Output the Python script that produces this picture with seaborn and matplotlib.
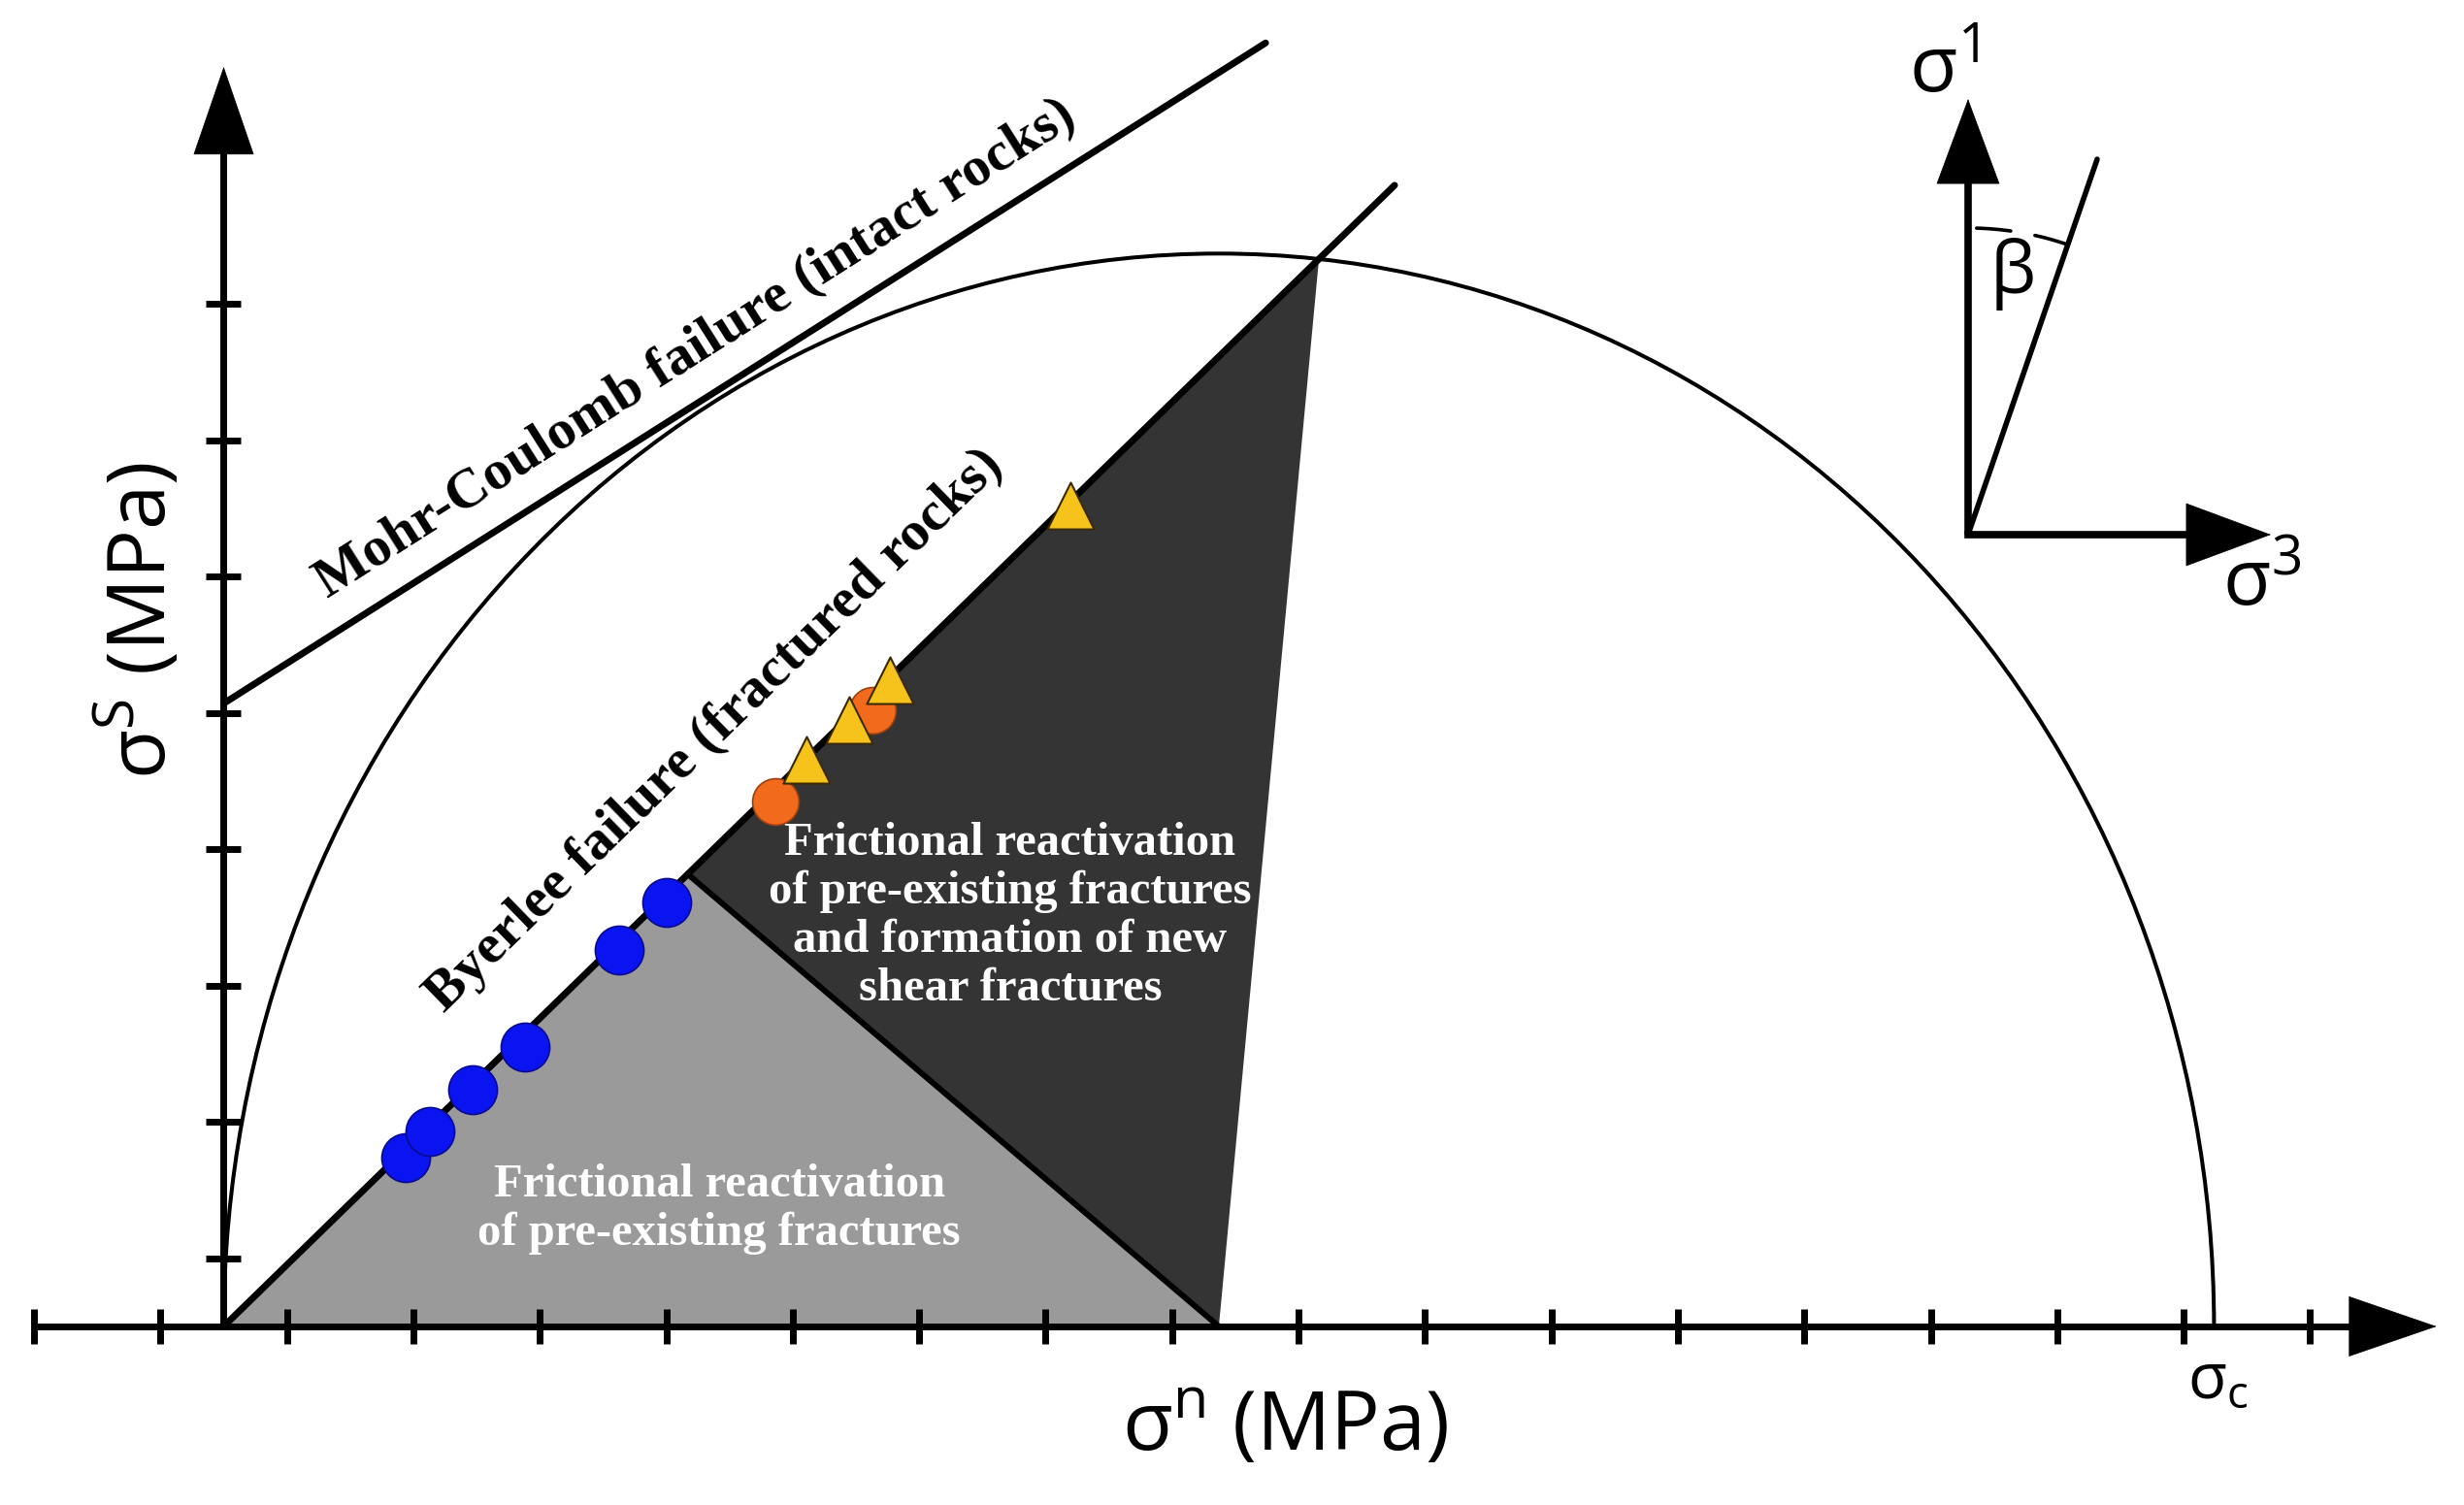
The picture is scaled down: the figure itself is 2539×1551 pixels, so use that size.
import numpy as np
import pandas as pd
import matplotlib
matplotlib.use("Agg")
import matplotlib.pyplot as plt
import seaborn as sns
from matplotlib.patches import Arc

# ---------------- data (in tick units) ----------------
sigma_c = 15.74                 # x where the Mohr circle meets the normal-stress axis
circle_center = sigma_c / 2.0
circle_radius = 7.87

byerlee_slope = 0.904           # Byerlee failure envelope (through origin)
byerlee_x_end = 9.26
mc_cohesion = 4.57              # Mohr-Coulomb envelope intercept
mc_slope = 0.588
mc_x_end = 8.24
junction_x = 3.67               # split between the two shaded regions on Byerlee line

blue_x = [1.44, 1.63, 1.97, 2.38, 3.13, 3.50]
blue_y = [1.24, 1.43, 1.74, 2.05, 2.76, 3.11]
orange_x = [4.36, 5.13]
orange_y = [3.85, 4.52]
yellow_x = [4.61, 4.95, 5.27, 6.70]
yellow_y = [4.16, 4.45, 4.74, 6.02]

x_ticks = [-1.5, -0.5, 0.5, 1.5, 2.5, 3.5, 4.5, 5.5, 6.5, 7.5, 8.5,
           9.5, 10.5, 11.5, 12.5, 13.5, 14.5, 15.5, 16.5]
y_ticks = [0.5, 1.5, 2.5, 3.5, 4.5, 5.5, 6.5, 7.5]

label_mc = "Mohr-Coulomb failure (intact rocks)"
label_byerlee = "Byerlee failure (fractured rocks)"
label_dark = "Frictional reactivation\nof pre-existing fractures\nand formation of new\nshear fractures"
label_gray = "Frictional reactivation\nof pre-existing fractures"

# ---------------- style ----------------
sns.set_style("white")
plt.rcParams["font.family"] = ["Open Sans", "DejaVu Sans"]
plt.rcParams["text.color"] = "black"
SERIF = ["Liberation Serif", "DejaVu Serif"]

W, H, DPI = 2539, 1551, 100
fig = plt.figure(figsize=(W / DPI, H / DPI), dpi=DPI)
ax = fig.add_axes([0, 0, 1, 1])
ax.set_xlim(-1.769, 17.717)
ax.set_ylim(-1.310, 9.730)
ax.axis("off")

ux = W / (17.717 + 1.769)       # pixels per x unit
uy = H / (9.730 + 1.310)        # pixels per y unit

# ---------------- shaded regions ----------------
x_top = 2 * circle_center / (1 + byerlee_slope ** 2)
y_top = byerlee_slope * x_top
jx, jy = junction_x, byerlee_slope * junction_x
ax.fill([0, jx, circle_center], [0, jy, 0], color="#9a9a9a", lw=0, zorder=1)
ax.fill([jx, x_top, circle_center], [jy, y_top, 0], color="#343434", lw=0, zorder=1)
ax.plot([jx, circle_center], [jy, 0], color="black", lw=4.3, zorder=2,
        solid_capstyle="butt")

# ---------------- Mohr circle and envelopes ----------------
ax.add_patch(Arc((circle_center, 0), 2 * circle_radius, 2 * circle_radius,
                 theta1=0, theta2=180, color="black", lw=2.9, zorder=3))
sns.lineplot(x=[0, byerlee_x_end], y=[0, byerlee_slope * byerlee_x_end],
             color="black", lw=5.0, ax=ax, zorder=4)
sns.lineplot(x=[0, mc_x_end], y=[mc_cohesion, mc_cohesion + mc_slope * mc_x_end],
             color="black", lw=5.0, ax=ax, zorder=4)

# ---------------- axes with arrows and ticks ----------------
ax.plot([x_ticks[0], 17.0], [0, 0], color="black", lw=5.0, zorder=5,
        solid_capstyle="butt")
ax.plot([0, 0], [0, 8.9], color="black", lw=5.0, zorder=5, solid_capstyle="butt")
head = "-|>,head_length=64,head_width=22"
ax.annotate("", xy=(17.50, 0), xytext=(16.8, 0),
            arrowprops=dict(arrowstyle=head, color="black", lw=0.5,
                            shrinkA=0, shrinkB=0, mutation_scale=1), zorder=6)
ax.annotate("", xy=(0, 9.24), xytext=(0, 8.4),
            arrowprops=dict(arrowstyle=head, color="black", lw=0.5,
                            shrinkA=0, shrinkB=0, mutation_scale=1), zorder=6)
tx = 18 / uy
ty = 18 / ux
ax.vlines(x_ticks, -tx, tx, color="black", lw=5.0, zorder=5)
ax.hlines(y_ticks, -ty, ty, color="black", lw=5.0, zorder=5)

# ---------------- data markers ----------------
sns.scatterplot(x=blue_x, y=blue_y, s=1300, marker="o", color="#0a14f0",
                edgecolor="#0a0a90", linewidth=1.2, ax=ax, zorder=7, legend=False)
sns.scatterplot(x=orange_x, y=orange_y, s=1190, marker="o", color="#f26a1b",
                edgecolor="#9a4010", linewidth=1.2, ax=ax, zorder=7, legend=False)
sns.scatterplot(x=yellow_x, y=yellow_y, s=1200, marker="^", color="#f6c21c",
                edgecolor="#3a2a00", linewidth=1.5, ax=ax, zorder=8, legend=False)

# ---------------- texts ----------------
def screen_angle(slope):
    p0 = ax.transData.transform((0, 0))
    p1 = ax.transData.transform((1, slope))
    return np.degrees(np.arctan2(p1[1] - p0[1], p1[0] - p0[0]))

ax.text(3.73, 7.17, label_mc, rotation=screen_angle(mc_slope),
        rotation_mode="anchor", ha="center", va="center", color="black",
        fontsize=42, fontweight="bold", family=SERIF, zorder=9)
ax.text(3.88, 4.37, label_byerlee, rotation=screen_angle(byerlee_slope),
        rotation_mode="anchor", ha="center", va="center", color="black",
        fontsize=42, fontweight="bold", family=SERIF, zorder=9)
ax.text(6.22, 3.01, label_dark, ha="center", va="center", color="white",
        fontsize=35, fontweight="bold", family=SERIF, linespacing=1.17, zorder=9)
ax.text(3.92, 0.86, label_gray, ha="center", va="center", color="white",
        fontsize=35, fontweight="bold", family=SERIF, linespacing=1.17, zorder=9)

ax.text(8.39, -0.755, r"σ$^{\mathregular{n}}$ (MPa)", ha="center", va="center",
        fontsize=61, color="black", zorder=9)
ax.text(-0.65, 5.18, r"σ$^{\mathregular{S}}$ (MPa)", ha="center", va="center",
        rotation=90, fontsize=60, color="black", zorder=9)
ax.text(15.77, -0.41, r"σ$_{\mathregular{c}}$", ha="center", va="center",
        fontsize=47, color="black", zorder=9)

# ---------------- inset: principal stresses ----------------
ix0, iy0 = 13.795, 5.808
ax.plot([ix0, ix0], [iy0, 8.6], color="black", lw=5.5, zorder=5, solid_capstyle="butt")
ax.plot([ix0, 16.0], [iy0, iy0], color="black", lw=5.5, zorder=5, solid_capstyle="projecting")
ax.annotate("", xy=(ix0, 9.004), xytext=(ix0, 8.3),
            arrowprops=dict(arrowstyle="-|>,head_length=62,head_width=23", color="black",
                            lw=0.5, shrinkA=0, shrinkB=0, mutation_scale=1), zorder=6)
ax.annotate("", xy=(16.19, iy0), xytext=(15.5, iy0),
            arrowprops=dict(arrowstyle="-|>,head_length=62,head_width=23", color="black",
                            lw=0.5, shrinkA=0, shrinkB=0, mutation_scale=1), zorder=6)
ax.plot([ix0, 14.816], [iy0, 8.562], color="black", lw=4.0, zorder=5)
R = 316.0
for a1, a2 in [(1.6, 8.0), (12.6, 18.8)]:
    phi = np.radians(np.linspace(a1, a2, 30))
    ax.plot(ix0 + R * np.sin(phi) / ux, iy0 + R * np.cos(phi) / uy,
            color="black", lw=2.6, zorder=5)
ax.text(14.15, 7.72, "β", ha="center", va="center", fontsize=54, color="black", zorder=9)
ax.text(13.60, 9.20, r"σ$^{\mathregular{1}}$", ha="center", va="center",
        fontsize=58, color="black", zorder=9)
ax.text(16.12, 5.44, r"σ$^{\mathregular{3}}$", ha="center", va="center",
        fontsize=58, color="black", zorder=9)

fig.savefig("out.png", dpi=DPI, facecolor="white")
